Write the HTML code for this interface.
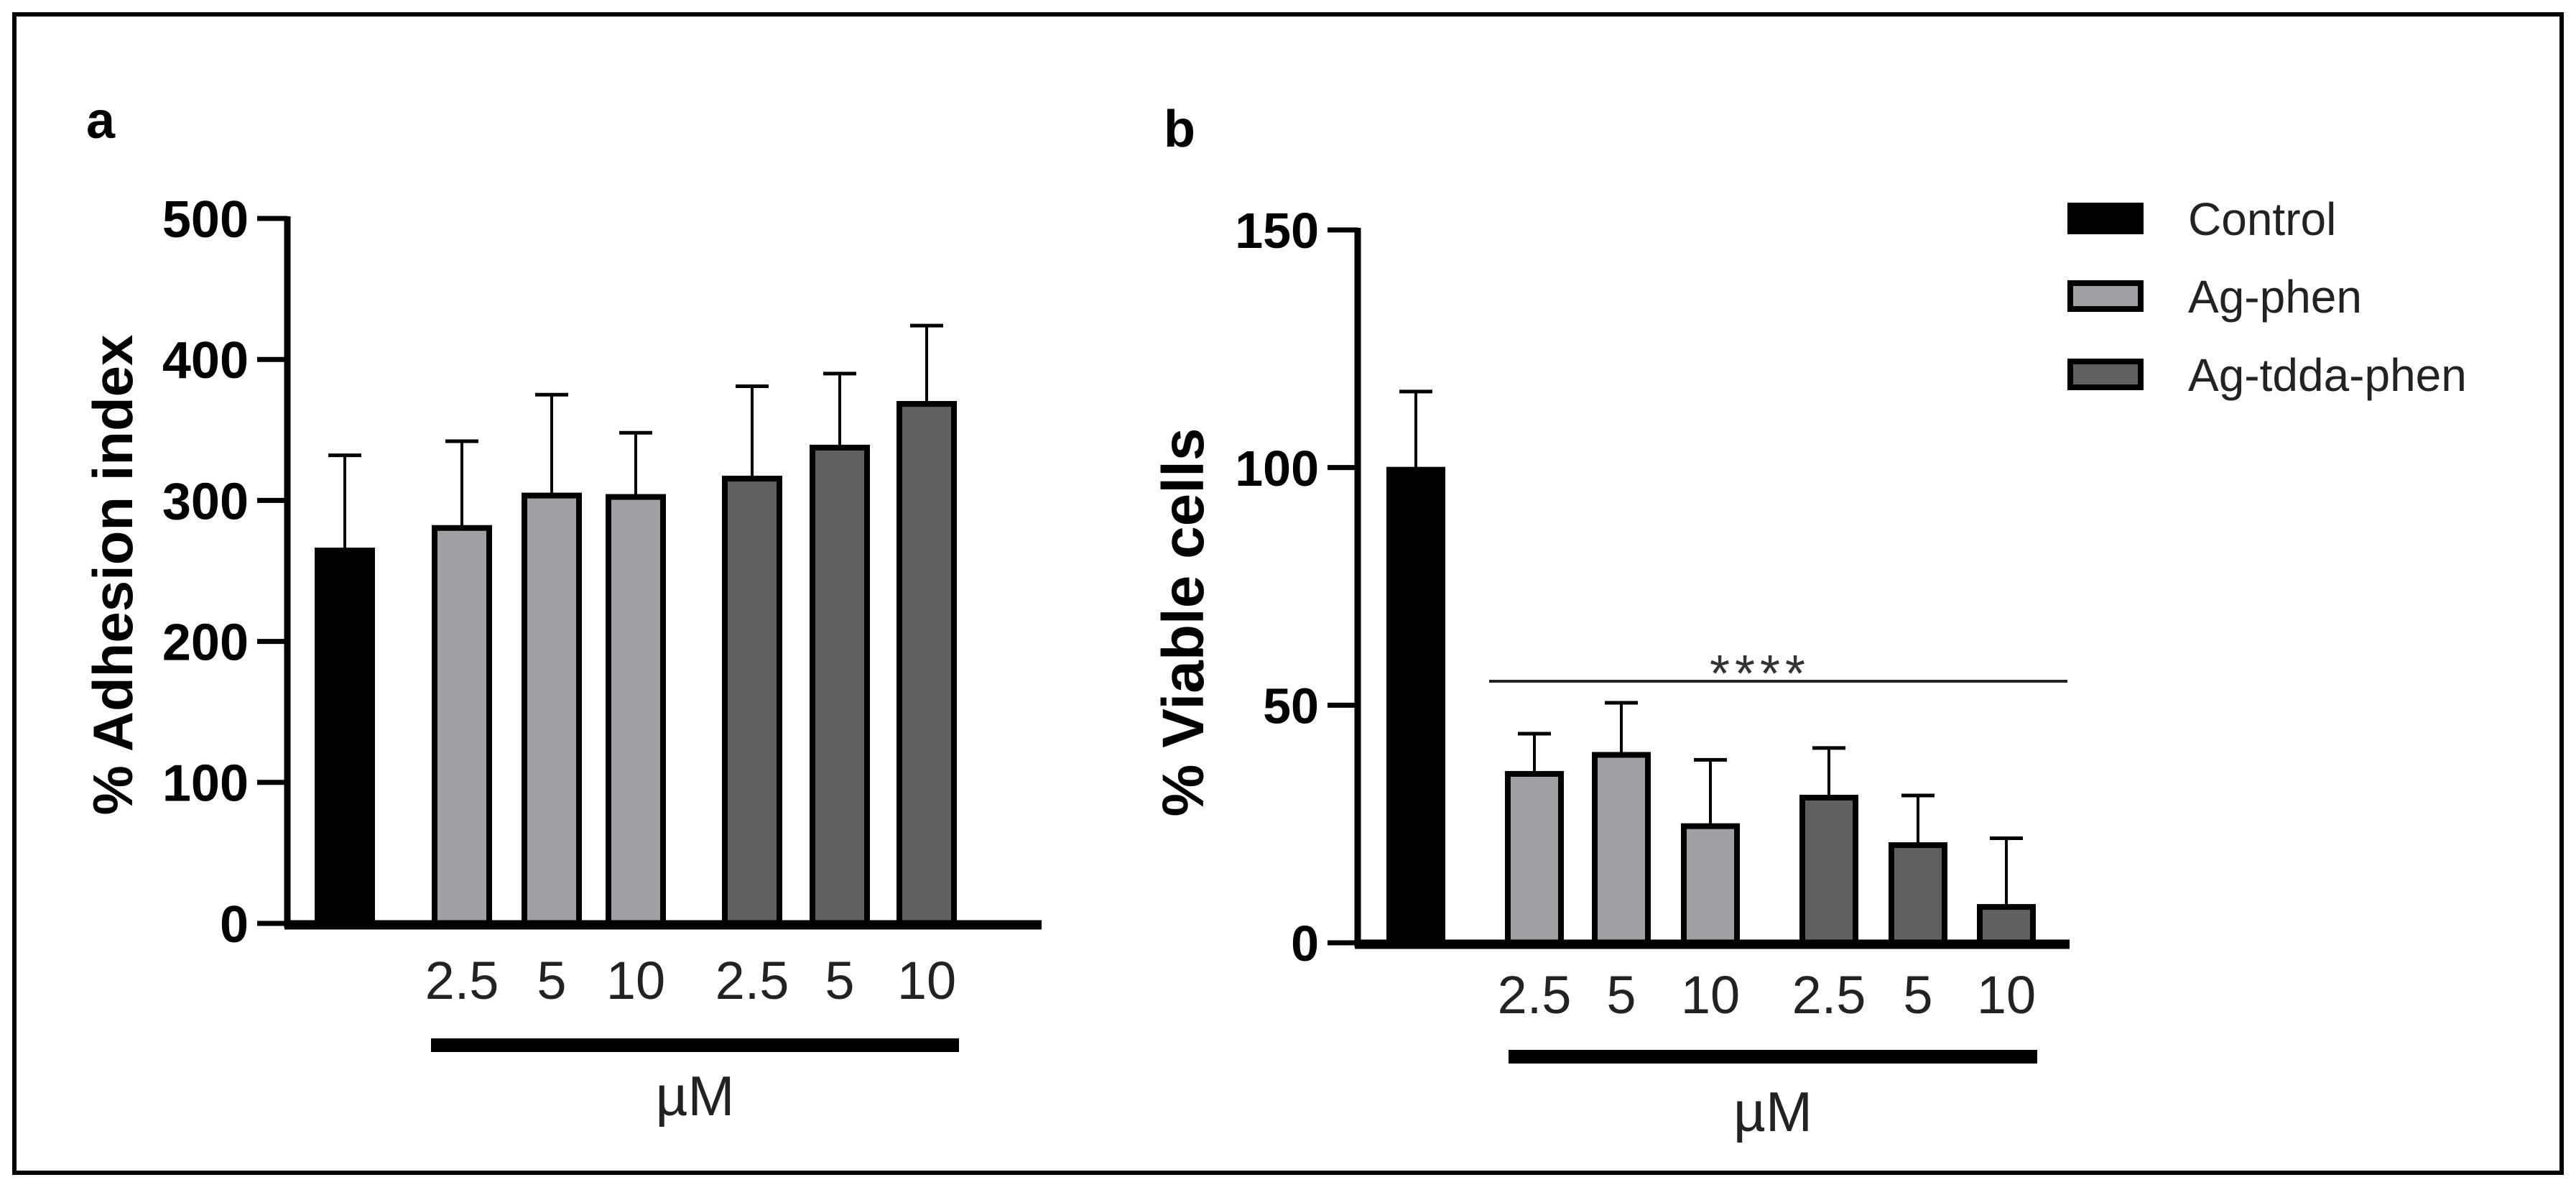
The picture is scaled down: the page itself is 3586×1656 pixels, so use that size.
<!DOCTYPE html>
<html><head><meta charset="utf-8"><style>
html,body{margin:0;padding:0;background:#fff;}
svg{display:block;font-family:"Liberation Sans",Arial,sans-serif;}
</style></head><body>
<svg id="fig" width="3586" height="1656" viewBox="0 0 3586 1656">
<rect x="20" y="20" width="3546" height="1612" fill="none" stroke="#000" stroke-width="6"/>
<text x="120" y="192" font-size="72" font-weight="bold">a</text>
<text x="1620" y="204" font-size="72" font-weight="bold">b</text>
<g id="ga"></g><g id="gb"></g>
</svg>
<script>
const categories = ["Control","2.5","5","10","2.5","5","10"];
const groups = ["Control","Ag-phen","Ag-phen","Ag-phen","Ag-tdda-phen","Ag-tdda-phen","Ag-tdda-phen"];
const adhesionValues = [266,282,305,304,317,339,370];
const adhesionErrors = [66,60,70,44,64,51,54];
const adhesionTicks = [0,100,200,300,400,500];
const viableValues = [100,36,40,25,31,21,8];
const viableErrors = [16,8,10.5,13.5,10,10,14];
const viableTicks = [0,50,100,150];
const legendLabels = ["Control","Ag-phen","Ag-tdda-phen"];

const NS="http://www.w3.org/2000/svg";
const fills={"Control":"#000","Ag-phen":"#a0a0a4","Ag-tdda-phen":"#606060"};
function mk(parent,tag,attrs,txt){const e=document.createElementNS(NS,tag);for(const k in attrs)e.setAttribute(k,attrs[k]);if(txt!==undefined)e.textContent=txt;parent.appendChild(e);return e;}

function panel(g,cfg){
  const {axX,axEnd,y0,yTop,max,ticks,vals,errs,centers,bw,title,titleX,titleY,titleSize,tickSize,barX1,barX2,barY,muY,tickY,pfx}=cfg;
  const ys=v=>y0-(v/max)*(y0-yTop);
  vals.forEach((v,i)=>{
    const cx=centers[i], top=ys(v), eTop=ys(v+errs[i]);
    const el=mk(g,"line",{x1:cx,x2:cx,y1:top,y2:eTop,stroke:"#000","stroke-width":4});
    
    
    const cap=mk(g,"line",{x1:cx-23,x2:cx+23,y1:eTop,y2:eTop,stroke:"#000","stroke-width":5});
    
    
    const r=mk(g,"rect",{x:cx-bw/2+4,y:top+3,width:bw-8,height:y0-top-3,fill:fills[groups[i]],stroke:"#000","stroke-width":8});
    
    
    if(i>0){
      const t=mk(g,"text",{x:cx,y:tickY,"font-size":74,fill:"#222","text-anchor":"middle"},categories[i]);
      
      
    }
  });
  const ya=mk(g,"line",{x1:axX,x2:axX,y1:yTop-3,y2:y0+6,stroke:"#000","stroke-width":9});
  
  
  const xa=mk(g,"line",{x1:axX-4,x2:axEnd,y1:y0+2,y2:y0+2,stroke:"#000","stroke-width":13});
  
  
  ticks.forEach(t=>{
    const y=ys(t);
    const tl=mk(g,"line",{x1:axX-42,x2:axX,y1:y,y2:y,stroke:"#000","stroke-width":7});
    
    
    const tx=mk(g,"text",{x:axX-54,y:y+tickSize*0.36,"font-size":tickSize,"font-weight":"bold","text-anchor":"end"},t);
    
    
  });
  const tt=mk(g,"text",{x:titleX,y:titleY,"font-size":titleSize,"font-weight":"bold","text-anchor":"middle",transform:`rotate(-90 ${titleX} ${titleY})`},title);
  
  
  const ub=mk(g,"rect",{x:barX1,y:barY-9,width:barX2-barX1,height:19,fill:"#000"});
  
  
  const um=mk(g,"text",{x:(barX1+barX2)/2,y:muY,"font-size":78,fill:"#222","text-anchor":"middle"},"µM");
  
  
  return ys;
}

panel(document.getElementById("ga"),{axX:400,axEnd:1450,y0:1285,yTop:304,max:500,ticks:adhesionTicks,
  vals:adhesionValues,errs:adhesionErrors,centers:[480,643,768,885,1047,1169,1290],bw:84,
  title:"% Adhesion index",titleX:184,titleY:800,titleSize:78,tickSize:72,
  barX1:600,barX2:1335,barY:1454,muY:1552,tickY:1390,pfx:"adhesion"});

const gb=document.getElementById("gb");
panel(gb,{axX:1890,axEnd:2881,y0:1312,yTop:320,max:150,ticks:viableTicks,
  vals:viableValues,errs:viableErrors,centers:[1971,2136,2257,2381,2546,2670,2793],bw:82,
  title:"% Viable cells",titleX:1675,titleY:866,titleSize:82,tickSize:70,
  barX1:2100,barX2:2836,barY:1470,muY:1574,tickY:1410,pfx:"viable"});
const sig=mk(gb,"line",{x1:2073,x2:2878,y1:948,y2:948,stroke:"#222","stroke-width":4});


const st=mk(gb,"text",{x:2450,y:962,"font-size":72,fill:"#333","text-anchor":"middle","letter-spacing":7},"****");



const lg=mk(gb,"g",{});


const legY=[304,412,521], legBase=[327,435,544];
legY.forEach((y,i)=>{
  const e=mk(lg,"g",{});
  
  
  const sw=mk(e,"rect",{x:2882,y:y-18,width:98,height:36,fill:fills[legendLabels[i]],stroke:"#000","stroke-width":8});
  
  
  const tx=mk(e,"text",{x:3046,y:legBase[i],"font-size":64,fill:"#222"},legendLabels[i]);
  
  
});
</script>
</body></html>
